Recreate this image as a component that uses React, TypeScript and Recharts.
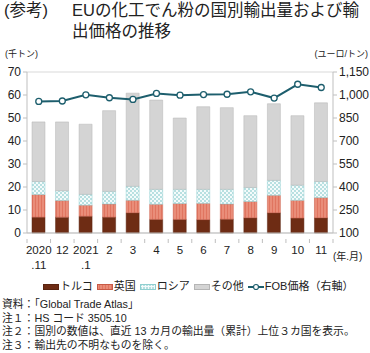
import React from 'react';
import { ComposedChart, Bar, Line, XAxis, YAxis, CartesianGrid } from 'recharts';

const labelsTop = ['2020', '12', '2021', '2', '3', '4', '5', '6', '7', '8', '9', '10', '11'];
const labelsBottom = ['.11', '', '.1', '', '', '', '', '', '', '', '', '', ''];
const turkey = [6.9, 6.9, 7.3, 6.9, 8.8, 5.9, 5.9, 5.8, 6.0, 6.6, 8.8, 6.5, 6.6];
const uk = [9.8, 7.2, 4.8, 5.7, 5.4, 6.6, 6.9, 7.1, 6.6, 7.1, 7.6, 7.7, 8.8];
const russia = [5.7, 4.3, 4.7, 5.5, 6.1, 6.5, 6.2, 6.1, 6.4, 6.1, 6.5, 6.6, 7.0];
const other = [25.9, 29.9, 30.5, 35.1, 40.5, 38.8, 31.0, 35.9, 35.5, 31.2, 33.3, 30.2, 34.2];
const fob = [958, 961, 1001, 982, 971, 1010, 999, 1003, 1005, 1021, 980, 1070, 1049];
const leftTicks = [0, 10, 20, 30, 40, 50, 60, 70];
const rightTicks = [100, 250, 400, 550, 700, 850, 1000, 1150];

const data = labelsTop.map((t, i) => ({
  key: i,
  top: t,
  bottom: labelsBottom[i],
  turkey: turkey[i],
  uk: uk[i],
  russia: russia[i],
  other: other[i],
  fob: fob[i],
}));

const FONT = "'Liberation Sans', 'Noto Sans CJK JP', sans-serif";
const AXIS = '#bfbfbf';
const LINE = '#1d5e6d';

const XTick = (props: any) => {
  const { x, y, payload, index } = props;
  const d = data[payload.value] || data[index];
  const half = 306 / 13 / 2;
  const ay = y - 2;
  return (
    <g>
      <line x1={x - half} y1={ay} x2={x - half} y2={ay + 4} stroke={AXIS} />
      {index === data.length - 1 && (
        <line x1={x + half} y1={ay} x2={x + half} y2={ay + 4} stroke={AXIS} />
      )}
      <text x={x} y={ay + 15} textAnchor="middle" fontSize={11.5} fill="#222" fontFamily={FONT}>
        {d.top}
      </text>
      {d.bottom && (
        <text x={x} y={ay + 30} textAnchor="middle" fontSize={11.5} fill="#222" fontFamily={FONT}>
          {d.bottom}
        </text>
      )}
    </g>
  );
};

const Swatch = ({ kind }: { kind: string }) => {
  if (kind === 'line') {
    return (
      <svg width={16} height={8} style={{ display: 'block' }}>
        <line x1={0} y1={4} x2={16} y2={4} stroke={LINE} strokeWidth={2} />
        <circle cx={8} cy={4} r={2.5} fill="#fff" stroke={LINE} strokeWidth={1.2} />
      </svg>
    );
  }
  const fills: Record<string, [string, string]> = {
    turkey: ['#6e2c14', '#5a2410'],
    uk: ['url(#ukPatL)', '#c85a46'],
    russia: ['url(#ruPatL)', '#8fcfd0'],
    other: ['#d4d4d4', '#b5b5b5'],
  };
  const [f, s] = fills[kind];
  return (
    <svg width={16} height={6} style={{ display: 'block' }}>
      <defs>
        <pattern id="ukPatL" width="3" height="3" patternUnits="userSpaceOnUse">
          <rect width="3" height="3" fill="#e07560" />
          <line x1="1" y1="0" x2="1" y2="3" stroke="#f2a592" strokeWidth="1" />
        </pattern>
        <pattern id="ruPatL" width="3" height="3" patternUnits="userSpaceOnUse">
          <rect width="3" height="3" fill="#f4fbfb" />
          <circle cx="1" cy="1" r="0.7" fill="#4fb1b5" />
        </pattern>
      </defs>
      <rect x={0.5} y={0.5} width={15} height={5} fill={f} stroke={s} strokeWidth={1} />
    </svg>
  );
};

const legendItems = [
  { kind: 'turkey', label: 'トルコ' },
  { kind: 'uk', label: '英国' },
  { kind: 'russia', label: 'ロシア' },
  { kind: 'other', label: 'その他' },
  { kind: 'line', label: 'FOB価格（右軸）' },
];

const notes = [
  '資料：「Global Trade Atlas」',
  '注１：HS コード 3505.10',
  '注２：国別の数値は、直近 13 カ月の輸出量（累計）上位３カ国を表示。',
  '注３：輸出先の不明なものを除く。',
];

export default function App() {
  const abs = (s: React.CSSProperties): React.CSSProperties => ({
    position: 'absolute',
    fontFamily: FONT,
    color: '#222',
    whiteSpace: 'nowrap',
    lineHeight: 1,
    ...s,
  });
  return (
    <div style={{ position: 'absolute', left: 0, top: 0, width: 370, height: 353, background: '#fff', overflow: 'hidden' }}>
      <div style={abs({ left: 4, top: 2, fontSize: 16.5 })}>(参考)</div>
      <div style={abs({ left: 72, top: 2, fontSize: 16.5 })}>EUの化工でん粉の国別輸出量および輸</div>
      <div style={abs({ left: 72, top: 23, fontSize: 16.5 })}>出価格の推移</div>
      <div style={abs({ left: 5, top: 50, fontSize: 9 })}>(千トン)</div>
      <div style={abs({ right: 2, top: 50, fontSize: 9 })}>(ユーロ/トン)</div>
      <div style={abs({ left: 333, top: 252, fontSize: 10 })}>(年.月)</div>

      <div style={{ position: 'absolute', left: 0, top: 0 }}>
        <ComposedChart
          width={370}
          height={353}
          data={data}
          margin={{ top: 72, right: 0, bottom: 90, left: 0 }}
          barSize={13}
        >
          <defs>
            <pattern id="ukPat" width="3" height="3" patternUnits="userSpaceOnUse">
              <rect width="3" height="3" fill="#e07560" />
              <line x1="1" y1="0" x2="1" y2="3" stroke="#f2a592" strokeWidth="1" />
            </pattern>
            <pattern id="ruPat" width="4" height="4" patternUnits="userSpaceOnUse">
              <rect width="4" height="4" fill="#f4fbfb" />
              <circle cx="1" cy="1" r="0.7" fill="#4fb1b5" />
              <circle cx="3" cy="3" r="0.7" fill="#4fb1b5" />
            </pattern>
          </defs>
          <CartesianGrid vertical={false} stroke="#d9d9d9" />
          <XAxis
            dataKey="key"
            height={30}
            stroke={AXIS}
            tickLine={false}
            tick={<XTick />}
            interval={0}
          />
          <YAxis
            yAxisId="left"
            width={27}
            domain={[0, 70]}
            ticks={leftTicks}
            interval={0}
            stroke={AXIS}
            tickSize={4}
            tick={{ fontSize: 12, fill: '#222', fontFamily: FONT }}
          />
          <YAxis
            yAxisId="right"
            orientation="right"
            width={37}
            domain={[100, 1150]}
            ticks={rightTicks}
            interval={0}
            stroke={AXIS}
            tickSize={4}
            tickFormatter={(v: number) => v.toLocaleString('en-US')}
            tick={{ fontSize: 12, fill: '#222', fontFamily: FONT, textAnchor: 'start' }}
          />
          <Bar yAxisId="left" dataKey="turkey" stackId="a" fill="#6e2c14" stroke="#5a2410" strokeWidth={0.5} isAnimationActive={false} />
          <Bar yAxisId="left" dataKey="uk" stackId="a" fill="url(#ukPat)" stroke="#c85a46" strokeWidth={0.5} isAnimationActive={false} />
          <Bar yAxisId="left" dataKey="russia" stackId="a" fill="url(#ruPat)" stroke="#8fcfd0" strokeWidth={0.5} isAnimationActive={false} />
          <Bar yAxisId="left" dataKey="other" stackId="a" fill="#d4d4d4" stroke="#b5b5b5" strokeWidth={0.5} isAnimationActive={false} />
          <Line
            yAxisId="right"
            dataKey="fob"
            stroke={LINE}
            strokeWidth={2}
            dot={{ r: 3, fill: '#fff', stroke: LINE, strokeWidth: 1.3 }}
            isAnimationActive={false}
          />
        </ComposedChart>
      </div>

      <div style={abs({ left: 43, top: 281, display: 'flex', alignItems: 'center', fontSize: 11 })}>
        {legendItems.map((it) => (
          <div key={it.kind} style={{ display: 'flex', alignItems: 'center', marginRight: 4 }}>
            <Swatch kind={it.kind} />
            <span style={{ marginLeft: 1 }}>{it.label}</span>
          </div>
        ))}
      </div>

      {notes.map((n, i) => (
        <div key={i} style={abs({ left: 2, top: 299 + i * 13.5, fontSize: 10.8 })}>
          {n}
        </div>
      ))}
    </div>
  );
}
